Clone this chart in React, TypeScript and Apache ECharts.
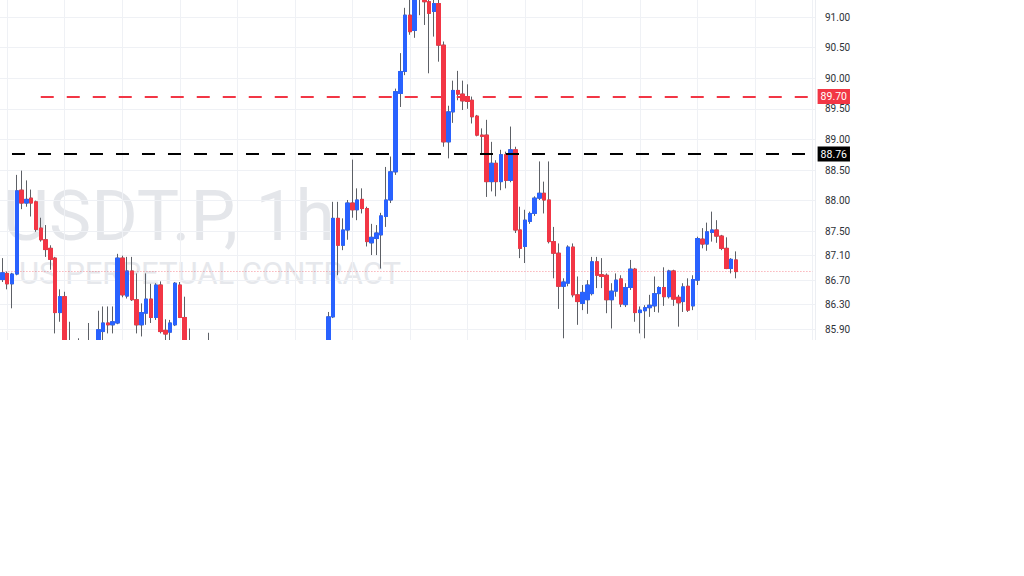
import React, { useEffect, useRef } from 'react';
import * as echarts from 'echarts';

// ---- data (hourly candles) ----
const opens = [
  86.71, 86.81, 86.64, 86.80, 88.17, 87.96, 88.04, 87.98, 87.55, 87.36,
  87.22, 87.06, 86.17, 86.43, 85.60, 85.48, 85.40, 85.55, 85.45, 85.58,
  85.66, 85.86, 86.00, 85.97, 86.00, 87.06, 86.44, 86.85, 86.38, 85.97,
  86.16, 86.39, 86.09, 86.62, 85.88, 85.85, 85.97, 86.62, 86.09, 85.62,
  85.52, 85.38, 85.45, 85.30, 85.48, 85.35, 85.20, 85.28, 85.12, 85.05,
  85.18, 85.02, 84.95, 85.10, 85.22, 85.15, 85.30, 85.25, 85.12, 85.20,
  85.35, 85.28, 85.40, 85.32, 85.45, 85.38, 85.50, 85.45, 85.60, 86.10,
  87.71, 87.27, 87.52, 87.96, 87.85, 88.02, 87.87, 87.31, 87.38, 87.44,
  87.74, 88.01, 88.47, 89.75, 90.11, 91.03, 90.78, 91.50, 91.70, 91.25,
  91.09, 91.22, 90.54, 88.96, 89.45, 89.80, 89.74, 89.70, 89.64, 89.38,
  89.07, 89.07, 88.31, 88.61, 88.31, 88.75, 88.33, 88.83, 87.52, 87.25,
  87.66, 87.79, 88.04, 88.12, 88.01, 87.33, 87.14, 86.60, 86.65, 87.24,
  86.46, 86.32, 86.38, 86.48, 87.00, 86.79, 86.78, 86.38, 86.52, 86.72,
  86.30, 86.58, 86.88, 86.17, 86.20, 86.25, 86.28, 86.48, 86.58, 86.43,
  86.85, 86.42, 86.35, 86.60, 86.28, 86.70, 87.37, 87.29, 87.48, 87.52,
  87.42, 87.22, 86.89, 87.03,
];
const closes = [
  86.82, 86.64, 86.80, 88.16, 87.96, 88.02, 87.96, 87.53, 87.36, 87.20,
  87.04, 86.17, 86.43, 85.60, 85.48, 85.40, 85.55, 85.45, 85.58, 85.66,
  85.89, 86.00, 85.97, 86.02, 87.06, 86.46, 86.85, 86.38, 85.97, 86.17,
  86.39, 86.09, 86.62, 85.86, 85.82, 86.00, 86.65, 86.09, 85.62, 85.52,
  85.38, 85.45, 85.30, 85.48, 85.35, 85.20, 85.28, 85.12, 85.05, 85.18,
  85.02, 84.95, 85.10, 85.22, 85.15, 85.30, 85.25, 85.12, 85.20, 85.35,
  85.28, 85.40, 85.32, 85.45, 85.38, 85.50, 85.45, 85.60, 86.10, 87.71,
  87.27, 87.52, 87.96, 87.85, 88.01, 87.87, 87.33, 87.40, 87.47, 87.75,
  88.01, 88.47, 89.78, 90.11, 91.03, 90.76, 91.50, 91.70, 91.25, 91.06,
  91.22, 90.54, 88.96, 89.45, 89.80, 89.74, 89.63, 89.62, 89.37, 89.07,
  89.05, 88.31, 88.61, 88.31, 88.75, 88.33, 88.83, 87.52, 87.22, 87.68,
  87.79, 88.04, 88.12, 88.01, 87.33, 87.14, 86.60, 86.67, 87.24, 86.46,
  86.35, 86.50, 86.62, 87.00, 86.78, 86.76, 86.38, 86.52, 86.70, 86.31,
  86.58, 86.88, 86.17, 86.21, 86.25, 86.29, 86.48, 86.58, 86.43, 86.85,
  86.39, 86.33, 86.59, 86.21, 86.71, 87.38, 87.29, 87.49, 87.52, 87.42,
  87.22, 86.89, 87.04, 86.84,
];
const lows = [
  86.67, 86.55, 86.24, 86.78, 87.86, 87.90, 87.74, 87.49, 87.33, 87.08,
  86.87, 85.83, 86.02, 85.50, 85.35, 85.28, 85.30, 85.32, 85.38, 85.48,
  85.60, 85.70, 85.83, 85.83, 85.98, 86.42, 86.40, 86.36, 85.83, 85.78,
  85.97, 86.00, 86.05, 85.83, 85.70, 85.72, 85.95, 86.08, 85.50, 85.40,
  85.25, 85.20, 85.18, 85.22, 85.20, 85.05, 85.10, 84.98, 84.90, 84.95,
  84.88, 84.80, 84.85, 85.00, 85.05, 85.08, 85.12, 85.00, 85.02, 85.10,
  85.18, 85.20, 85.22, 85.25, 85.28, 85.30, 85.35, 85.38, 85.50, 86.08,
  86.78, 87.19, 87.36, 87.72, 87.68, 87.79, 87.25, 87.11, 87.11, 86.89,
  87.57, 87.96, 88.42, 89.53, 90.05, 90.71, 90.66, 91.03, 90.87, 90.08,
  90.68, 90.27, 88.88, 88.69, 89.27, 89.64, 89.48, 89.50, 89.26, 89.05,
  88.77, 88.06, 88.15, 88.07, 88.17, 88.20, 88.30, 87.47, 87.06, 86.98,
  87.62, 87.75, 88.01, 87.79, 87.30, 86.73, 86.23, 85.75, 86.60, 86.42,
  85.97, 86.21, 86.15, 86.45, 86.57, 86.57, 86.16, 85.91, 86.43, 86.26,
  86.26, 86.54, 86.02, 85.83, 85.75, 86.10, 86.18, 86.17, 86.28, 86.40,
  86.28, 85.94, 86.18, 86.18, 86.21, 86.62, 87.22, 87.18, 87.33, 87.31,
  87.19, 86.88, 86.81, 86.73,
];
const highs = [
  87.06, 86.84, 86.82, 88.42, 88.49, 88.33, 88.18, 88.00, 87.72, 87.60,
  87.27, 87.08, 86.55, 86.51, 86.02, 85.65, 85.75, 85.66, 86.00, 85.69,
  86.20, 86.27, 86.27, 86.27, 87.13, 87.10, 87.08, 87.08, 86.81, 86.32,
  86.81, 86.64, 86.65, 86.68, 86.06, 86.05, 86.67, 86.67, 86.43, 85.91,
  85.62, 85.58, 85.55, 85.84, 85.60, 85.45, 85.40, 85.35, 85.25, 85.30,
  85.28, 85.12, 85.22, 85.35, 85.38, 85.45, 85.50, 85.35, 85.32, 85.48,
  85.52, 85.55, 85.58, 85.60, 85.62, 85.65, 85.66, 85.68, 86.18, 87.98,
  87.98, 87.71, 88.01, 88.67, 88.20, 88.20, 87.90, 87.62, 87.60, 87.80,
  88.55, 88.72, 89.83, 90.41, 91.15, 91.35, 91.62, 91.85, 91.80, 91.45,
  91.35, 91.30, 90.60, 89.55, 89.96, 90.12, 89.96, 89.90, 89.70, 89.40,
  89.18, 89.32, 88.96, 88.66, 88.83, 88.80, 89.21, 88.88, 87.90, 87.85,
  87.82, 88.07, 88.64, 88.31, 88.64, 87.57, 87.30, 86.73, 87.27, 87.30,
  86.76, 86.62, 86.70, 87.08, 87.08, 87.06, 86.81, 86.65, 86.81, 86.78,
  86.65, 87.03, 86.90, 86.27, 86.29, 86.46, 86.76, 86.60, 86.91, 86.87,
  86.87, 86.46, 86.65, 86.73, 86.78, 87.41, 87.55, 87.64, 87.82, 87.68,
  87.44, 87.40, 87.06, 87.17,
];

const priceTicks = [85.9, 86.3, 86.7, 87.1, 87.5, 88.0, 88.5, 89.0, 89.5, 90.0, 90.5, 91.0];
const resistanceLevel = 89.7;
const supportLevel = 88.76;
const lastPrice = 86.84;
const symbolText = 'USDT.P, 1h';
const descText = 'US PERPETUAL CONTRACT';
const TOTAL_SLOTS = 170; // candles + empty right margin
const slots = Array.from({ length: TOTAL_SLOTS }, (_, i) => 'h' + i);

const UP = '#2962ff';
const DOWN = '#f23645';
const WICK = '#5d6066';

export default function App() {
  const ref = useRef<HTMLDivElement>(null);

  useEffect(() => {
    if (!ref.current) return;
    const chart = echarts.init(ref.current, undefined, { renderer: 'svg' });

    const wickData = opens.map((o, i) => [o, closes[i], lows[i], highs[i]]);
    const bodyData = opens.map((o, i) => [o, closes[i], Math.min(o, closes[i]), Math.max(o, closes[i])]);

    const lineStyles = [
      { color: DOWN, width: 2.2, type: [13, 13] },
      { color: '#000000', width: 2.2, type: [13, 13] },
      { color: 'rgba(242,54,69,0.55)', width: 1, type: [1, 2] },
    ];
    const lineLabels = [
      { show: true, position: 'end', formatter: resistanceLevel.toFixed(2), color: '#fff', backgroundColor: DOWN, padding: [2, 3, 2, 3], fontSize: 10.5, fontFamily: 'Roboto', distance: 5 },
      { show: true, position: 'end', formatter: supportLevel.toFixed(2), color: '#fff', backgroundColor: '#000', padding: [2, 3, 2, 3], fontSize: 10.5, fontFamily: 'Roboto', distance: 5 },
      { show: false },
    ];
    const linePairs = [
      [slots[8], resistanceLevel],
      [slots[2], supportLevel],
      [slots[0], lastPrice],
    ];

    const option: any = {
      animation: false,
      backgroundColor: '#ffffff',
      grid: { left: 0, right: 209, top: 0, bottom: 0 },
      graphic: [
        {
          type: 'text',
          x: 3,
          y: 215,
          z: 0,
          silent: true,
          style: {
            text: symbolText,
            fontSize: 71,
            lineHeight: 56,
            fontFamily: 'Roboto',
            fill: '#e4e6ea',
            verticalAlign: 'middle',
            align: 'left',
          },
        },
        {
          type: 'text',
          x: 19,
          y: 273,
          z: 0,
          silent: true,
          style: {
            text: descText,
            fontSize: 31,
            lineHeight: 24,
            fontFamily: 'Roboto',
            fill: '#e6e8ec',
            verticalAlign: 'middle',
            align: 'left',
          },
        },
      ],
      xAxis: {
        type: 'category',
        data: slots,
        boundaryGap: true,
        axisLine: { show: false },
        axisTick: { show: false },
        axisLabel: { show: false },
        splitLine: {
          show: true,
          alignWithLabel: true,
          interval: (idx: number) => idx % 12 === 1,
          lineStyle: { color: '#eff1f5', width: 1 },
        },
      },
      yAxis: {
        type: 'value',
        position: 'right',
        min: 85.722,
        max: 91.278,
        scale: true,
        axisLine: { show: true, lineStyle: { color: '#eceef2' } },
        axisTick: { show: false, customValues: priceTicks },
        axisLabel: {
          customValues: priceTicks,
          formatter: (v: number) => v.toFixed(2),
          color: '#2e3238',
          fontSize: 10,
          fontFamily: 'Roboto',
          margin: 10,
        },
        splitLine: { show: true, lineStyle: { color: '#eff1f5', width: 1 } },
      },
      series: [
        {
          name: 'wicks',
          type: 'candlestick',
          data: wickData,
          barWidth: 4,
          clip: true,
          z: 3,
          itemStyle: {
            color: 'transparent',
            color0: 'transparent',
            borderColor: WICK,
            borderColor0: WICK,
            borderWidth: 1,
          },
        },
        {
          name: 'bodies',
          type: 'candlestick',
          data: bodyData,
          barWidth: 4,
          clip: true,
          z: 4,
          itemStyle: {
            color: UP,
            color0: DOWN,
            borderColor: UP,
            borderColor0: DOWN,
            borderWidth: 1,
          },
        },
        {
          name: 'levels',
          type: 'line',
          data: [],
          clip: false,
          z: 5,
          markLine: {
            silent: true,
            symbol: ['none', 'none'],
            animation: false,
            data: linePairs.map((start, k) => [
              { coord: start, lineStyle: lineStyles[k], label: lineLabels[k] },
              { coord: [slots[TOTAL_SLOTS - 1], start[1]] },
            ]),
          },
        },
      ],
    };

    chart.setOption(option);
    return () => chart.dispose();
  }, []);

  return (
    <div
      ref={ref}
      style={{ position: 'fixed', left: 0, top: 0, width: 1024, height: 340, background: '#fff' }}
    />
  );
}
